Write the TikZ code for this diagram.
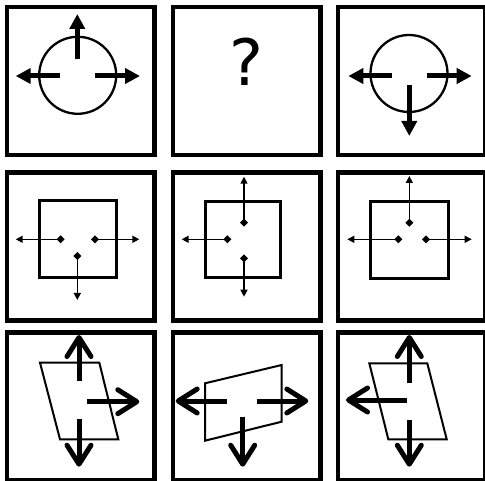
\documentclass[tikz,border=0pt]{standalone}
\usepackage{fontspec}
\setmainfont{DejaVu Sans}
\usetikzlibrary{arrows.meta}
\begin{document}
\begin{tikzpicture}[x=1pt,y=-1pt,
  panel/.style={line width=4.5pt},
  fat/.style={line width=5pt,-{Triangle[length=15pt,width=15pt]}},
  thin/.style={line width=1.5pt,{Diamond[length=8pt,width=8pt]}-{Triangle[length=7pt,width=7pt]}},
  barb/.style={line width=5pt,-{Straight Barb[length=19pt,width=24pt,round]}}]
\useasboundingbox (0,0) rectangle (485,481);
\foreach \px in {7,173,338}
  \foreach \py in {7,172.5,332.5}
    \draw[panel] (\px,\py) rectangle ++(147.5,148);
\draw[line width=2.3pt] (77.7,75.3) circle (38.5);
\draw[fat] (77.3,59.3) -- (77.3,14);
\draw[fat] (60,76) -- (15.7,76);
\draw[fat] (95,76) -- (140,76);
\node (qmark) at (246,61.5) {\fontsize{64}{64}\selectfont ?};
\draw[line width=2.3pt] (409,73.5) circle (38.5);
\draw[fat] (391.7,76) -- (348.3,76);
\draw[fat] (426.7,76) -- (471.7,76);
\draw[fat] (409.3,85) -- (409.3,136);
\draw[line width=3pt] (39.3,200.7) rectangle (116.7,277.3);
\draw[thin] (64.7,239.3) -- (15.7,239.3);
\draw[thin] (91,239.3) -- (139.3,239.3);
\draw[thin] (77.3,252) -- (77.3,300);
\draw[line width=3pt] (205,201.7) rectangle (280.7,277.3);
\draw[thin] (244,226.7) -- (244,176.7);
\draw[thin] (231.3,239.3) -- (181.7,239.3);
\draw[thin] (244,254.3) -- (244,296.7);
\draw[line width=3pt] (370.7,201.7) rectangle (448.3,278.3);
\draw[thin] (409.3,226.7) -- (409.3,176);
\draw[thin] (402.3,239.3) -- (347.3,239.3);
\draw[thin] (422,239.3) -- (471.7,239.3);
\draw[line width=2pt] (40,362.7) -- (99.3,362.7) -- (118.3,439.3) -- (60,439.3) -- cycle;
\draw[barb] (79,380.7) -- (79,335);
\draw[barb] (87.3,401.7) -- (139.3,401.7);
\draw[barb] (79,419.3) -- (79,466.7);
\draw[line width=2pt] (205,383.3) -- (281.7,365) -- (281.7,421.7) -- (205,440.7) -- cycle;
\draw[barb] (226.7,401) -- (175.7,401);
\draw[barb] (256.7,401) -- (308.3,401);
\draw[barb] (242.7,416.7) -- (242.7,466.7);
\draw[line width=2pt] (369.3,363.3) -- (427.3,363.3) -- (446.7,439.3) -- (388.3,439.3) -- cycle;
\draw[barb] (409.3,383.3) -- (409.3,335);
\draw[barb] (406.7,400) -- (346,400);
\draw[barb] (409.3,420) -- (409.3,466.7);
\end{tikzpicture}
\end{document}
